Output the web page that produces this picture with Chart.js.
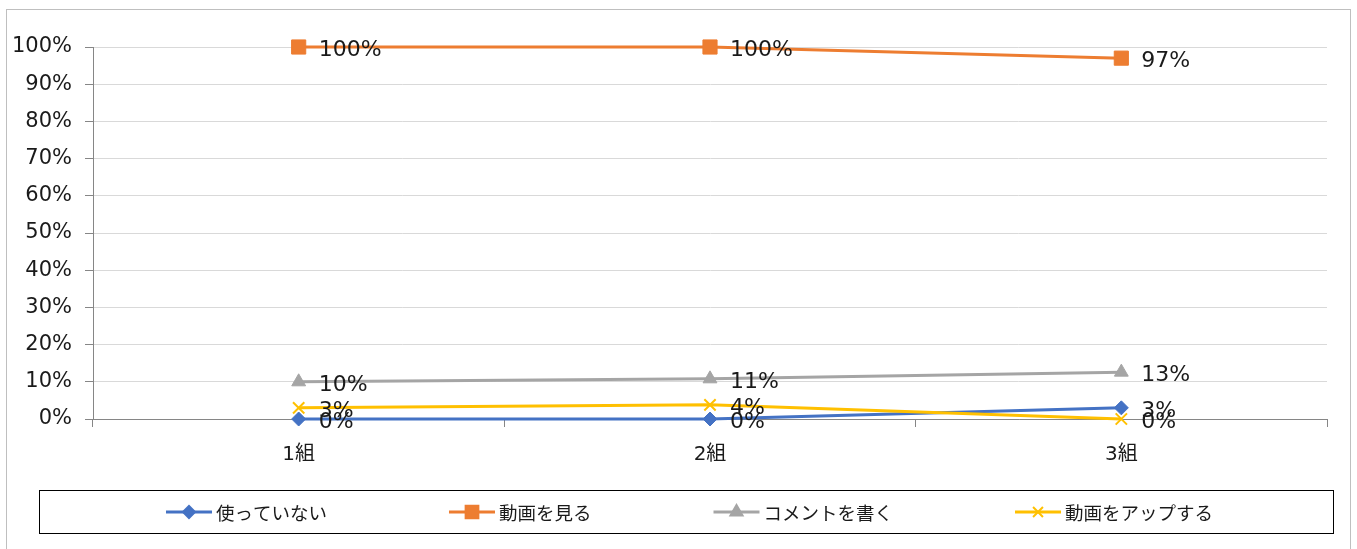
<!DOCTYPE html>
<html>
<head>
<meta charset="utf-8">
<script src="https://cdn.jsdelivr.net/npm/chart.js@4.4.1/dist/chart.umd.min.js"></script>
<style>
  html, body { margin: 0; padding: 0; background: #fff; }
  #wrap { position: relative; width: 1357px; height: 549px; }
</style>
</head>
<body>
<div id="wrap"><canvas id="c" width="1357" height="549"></canvas></div>
<script>
// データ
const categories = ['1組', '2組', '3組'];
const seriesNames = ['使っていない', '動画を見る', 'コメントを書く', '動画をアップする'];
const notUsing = [0, 0, 0.03];
const watching = [1, 1, 0.97];
const commenting = [0.10, 0.108, 0.126];
const uploading = [0.03, 0.038, 0];

const colors = ['#4472C4', '#ED7D31', '#A5A5A5', '#FFC000'];
const markers = ['rectRot', 'rect', 'triangle', 'crossRot'];
const markerSize = [7, 10, 8, 8];
const seriesData = [notUsing, watching, commenting, uploading];

const numFont = '"DejaVu Sans", "Noto Sans CJK JP", sans-serif';
const jpFont = '"Noto Sans CJK JP", "DejaVu Sans", sans-serif';

const pct = v => Math.round(v * 100) + '%';

// 枠線
const framePlugin = {
  id: 'frame',
  beforeDraw(chart) {
    const ctx = chart.ctx;
    ctx.save();
    ctx.strokeStyle = '#bfbfbf';
    ctx.lineWidth = 1;
    ctx.strokeRect(6.5, 9.5, 1344, 600);
    ctx.restore();
  }
};

// データラベル（点の右側）
const labelPlugin = {
  id: 'valueLabels',
  afterDatasetsDraw(chart) {
    const ctx = chart.ctx;
    ctx.save();
    ctx.font = '22px ' + numFont;
    ctx.fillStyle = '#1a1a1a';
    ctx.textAlign = 'left';
    ctx.textBaseline = 'middle';
    chart.data.datasets.forEach((ds, i) => {
      const meta = chart.getDatasetMeta(i);
      meta.data.forEach((pt, j) => {
        ctx.fillText(pct(ds.data[j]), pt.x + 20, pt.y + 3);
      });
    });
    ctx.restore();
  }
};

// 凡例（枠付き）
const legendPlugin = {
  id: 'boxLegend',
  afterDraw(chart) {
    const ctx = chart.ctx;
    const box = { left: 39.5, top: 490.5, right: 1333.5, bottom: 533.5 };
    ctx.save();
    ctx.strokeStyle = '#000';
    ctx.lineWidth = 1;
    ctx.strokeRect(box.left, box.top, box.right - box.left, box.bottom - box.top);

    ctx.font = '18.5px ' + jpFont;
    const lineLen = 46, textGap = 4, itemGap = 122;
    const widths = seriesNames.map(n => lineLen + textGap + ctx.measureText(n).width);
    const total = widths.reduce((a, b) => a + b, 0) + itemGap * (seriesNames.length - 1);
    let x = (box.left + box.right) / 2 - total / 2 + 3;
    const y = (box.top + box.bottom) / 2;
    seriesNames.forEach((name, i) => {
      ctx.strokeStyle = colors[i];
      ctx.fillStyle = colors[i];
      ctx.lineWidth = 3;
      ctx.beginPath();
      ctx.moveTo(x, y);
      ctx.lineTo(x + lineLen, y);
      ctx.stroke();
      ctx.lineWidth = 2;
      Chart.helpers.drawPoint(ctx, { pointStyle: markers[i], radius: markerSize[i] - 1, rotation: 0, borderWidth: 2 }, x + lineLen / 2, y);
      ctx.fillStyle = '#1a1a1a';
      ctx.textAlign = 'left';
      ctx.textBaseline = 'middle';
      ctx.fillText(name, x + lineLen + textGap, y + 1);
      x += widths[i] + itemGap;
    });
    ctx.restore();
  }
};

const datasets = seriesNames.map((name, i) => ({
  label: name,
  data: seriesData[i],
  borderColor: colors[i],
  backgroundColor: colors[i],
  borderWidth: 3,
  pointStyle: markers[i],
  pointRadius: markerSize[i],
  pointHoverRadius: markerSize[i],
  pointBorderWidth: markers[i] === 'crossRot' ? 2 : 1,
  tension: 0,
  clip: false,
  order: seriesNames.length - 1 - i
}));

new Chart(document.getElementById('c'), {
  type: 'line',
  data: { labels: categories, datasets },
  options: {
    responsive: false,
    animation: false,
    layout: { padding: { top: 47, right: 30, left: 0, bottom: 0 } },
    plugins: {
      legend: { display: false },
      tooltip: { enabled: false }
    },
    scales: {
      x: {
        offset: true,
        grid: {
          offset: true,
          drawOnChartArea: false,
          drawTicks: true,
          tickLength: 8,
          tickColor: '#868686'
        },
        border: { color: '#868686', width: 1 },
        ticks: {
          font: { family: numFont, size: 20 },
          color: '#1a1a1a',
          padding: 16
        },
        afterFit(s) { s.height = 130; }
      },
      y: {
        min: 0,
        max: 1,
        ticks: {
          stepSize: 0.1,
          callback: v => pct(v),
          font: { family: numFont, size: 21 },
          color: '#1a1a1a',
          padding: 13
        },
        grid: {
          color: '#d9d9d9',
          lineWidth: 1,
          tickLength: 8,
          tickColor: '#868686'
        },
        border: { color: '#868686', width: 1 },
        afterFit(s) { s.width = 93; }
      }
    }
  },
  plugins: [framePlugin, labelPlugin, legendPlugin]
});
</script>
</body>
</html>
